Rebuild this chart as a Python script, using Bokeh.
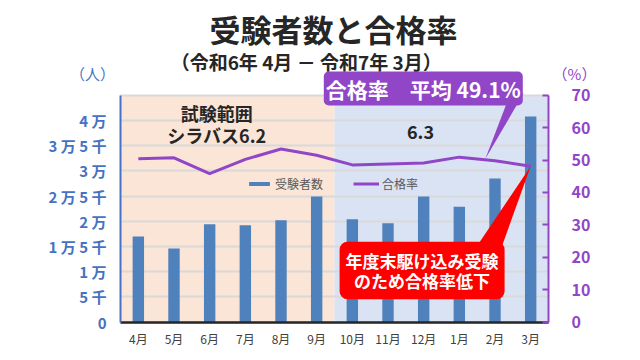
from bokeh.plotting import figure
from bokeh.models import (Range1d, LinearAxis, FixedTicker, Label, Legend, LegendItem)
from bokeh.embed import file_html
from bokeh.resources import INLINE

# ---- data ----
months = ["4月", "5月", "6月", "7月", "8月", "9月", "10月", "11月", "12月", "1月", "2月", "3月"]
examinees = [17000, 14600, 19400, 19200, 20200, 24900, 20400, 19600, 24900, 22900, 28500, 40800]
pass_rate = [50.4, 50.7, 45.8, 50.2, 53.4, 51.5, 48.5, 48.8, 49.1, 50.9, 49.8, 48.1]
syllabus_names = ["試験範囲\nシラバス6.2", "6.3"]
syllabus_start = [0, 6]      # month index where each syllabus period starts
syllabus_end = [6, 12]
count_ticks = [0, 5000, 10000, 15000, 20000, 25000, 30000, 35000, 40000]
count_tick_labels = ["0", "5 千", "1 万", "1 万 5 千", "2 万", "2 万 5 千", "3 万", "3 万 5 千", "4 万"]
count_max = 45000
rate_ticks = [0, 10, 20, 30, 40, 50, 60, 70]
rate_max = 70
avg_rate_text = "合格率　平均 49.1%"
note_text = "年度末駆け込み受験\nのため合格率低下"

FONT = "Noto Sans CJK JP"
BLUE = "#4472C4"
BAR = "#4F81BD"
PURPLE = "#9146C8"
PEACH = "#FBE5D6"
LIGHTBLUE = "#DAE3F3"
RED = "#FF0000"
DARK = "#262626"

# ---- layout (pixels of the 640x360 canvas) ----
W, H = 640, 360
PL, PR, PT, PB = 120, 548, 94.7, 321.7   # plot area edges

n = len(months)
xs = [i + 0.5 for i in range(n)]


def span(lo_px, hi_px, a, b, total):
    """range so that data a..b maps to pixels lo_px..hi_px of a canvas of size total"""
    k = (b - a) / (hi_px - lo_px)
    return Range1d(a - lo_px * k, b + (total - hi_px) * k)


xr = span(PL, PR, 0, n, W)
yr = span(H - PB, H - PT, 0, count_max, H)
pr = span(H - PB, H - PT, 0, rate_max, H)

p = figure(width=W, height=H, x_range=xr, y_range=yr,
           output_backend="svg", toolbar_location=None,
           min_border_left=0, min_border_right=0, min_border_top=0, min_border_bottom=0)
p.extra_y_ranges = {"pct": pr}
p.outline_line_color = None
p.background_fill_color = "white"
p.border_fill_color = "white"

# background periods
p.quad(left=syllabus_start, right=syllabus_end, bottom=0, top=count_max,
       color=[PEACH, LIGHTBLUE], line_color=None, level="image")

# grid
grid_ticks = count_ticks + [count_max]
p.xgrid.visible = False
g = p.ygrid[0]
if "cross_bounds" in g.properties():
    g.ticker = FixedTicker(ticks=grid_ticks)
    g.bounds = (0, count_max)
    g.cross_bounds = (0, n)
    g.grid_line_color = "#D9D9D9"
    g.grid_line_width = 1.8
else:
    g.visible = False
    p.segment(x0=0, x1=n, y0=grid_ticks, y1=grid_ticks, color="#D9D9D9",
              line_width=1.8, level="underlay")

# bars and line
bars = p.vbar(x=xs, top=examinees, width=0.32, color=BAR, line_color=None)
line = p.line(x=xs, y=pass_rate, y_range_name="pct", color=PURPLE, line_width=3)

# x axis
xa = p.xaxis[0]
xa.fixed_location = 0
xa.bounds = (0, n)
xa.ticker = FixedTicker(ticks=xs)
xa.major_label_overrides = {x: m for x, m in zip(xs, months)}
xa.major_label_text_font = FONT
xa.major_label_text_font_size = "12px"
xa.major_label_text_color = "#404040"
xa.major_tick_line_color = None
xa.minor_tick_line_color = None
xa.axis_line_color = DARK
xa.axis_line_width = 2.5
xa.major_label_standoff = 2

# left axis
ya = p.yaxis[0]
ya.fixed_location = 0
ya.bounds = (0, count_max)
ya.ticker = FixedTicker(ticks=count_ticks)
ya.major_label_overrides = {t: l for t, l in zip(count_ticks, count_tick_labels)}
ya.major_label_text_font = FONT
ya.major_label_text_font_size = "15px"
ya.major_label_text_font_style = "bold"
ya.major_label_text_color = BLUE
ya.major_tick_line_color = None
ya.minor_tick_line_color = None
ya.axis_line_color = BLUE
ya.axis_line_width = 2
ya.major_label_standoff = 8

# right axis
ra = LinearAxis(y_range_name="pct", ticker=FixedTicker(ticks=rate_ticks),
                fixed_location=n, bounds=(0, rate_max))
ra.major_label_text_font = FONT
ra.major_label_text_font_size = "16px"
ra.major_label_text_font_style = "bold"
ra.major_label_text_color = PURPLE
ra.major_tick_in = 6
ra.major_tick_out = 0
ra.major_tick_line_color = PURPLE
ra.major_tick_line_width = 2
ra.minor_tick_line_color = None
ra.axis_line_color = PURPLE
ra.axis_line_width = 2
ra.major_label_standoff = 23
p.add_layout(ra, "right")

# legend
legend = Legend(items=[LegendItem(label="受験者数", renderers=[bars]),
                       LegendItem(label="合格率", renderers=[line])],
                location=(246, 168), orientation="horizontal",
                background_fill_alpha=0, border_line_color=None,
                padding=0, margin=0, spacing=30, label_standoff=3,
                glyph_width=26, glyph_height=5,
                label_text_font=FONT, label_text_font_size="12px",
                label_text_color="#595959")
p.add_layout(legend)

# callout tails
last = n - 1
p.patch(x=[10.0, 10.7, xs[last]], y=[23.6, 23.6, pass_rate[last]],
        y_range_name="pct", color=RED, line_color=None)
p.patch(x=[10.93, 11.30, 10.23], y=[70.5, 70.5, 50.4],
        y_range_name="pct", color=PURPLE, line_color=None)


# texts
def lab(text, x, y, size, color, style="normal", units="screen", **kw):
    p.add_layout(Label(x=x, y=y, x_units=units, y_units=units, text=text,
                       text_align="center", text_baseline="middle",
                       text_font=FONT, text_font_size=size, text_color=color,
                       text_font_style=style, **kw))


lab("受験者数と合格率", 333, H - 27.5, "31px", DARK, "bold")
lab("（令和6年  4月 － 令和7年  3月）", 310, H - 61, "19px", DARK, "bold")
lab("（人）", 92, H - 73, "15px", BLUE)
lab("（%）", 574, H - 72.5, "15px", PURPLE)
lab(avg_rate_text, 422.8, H - 88, "21px", "white", "bold",
    background_fill_color=PURPLE, padding=2, border_radius=5)

# syllabus period labels
lab(syllabus_names[0], 2.7, 39300, "18px", DARK, "bold", units="data", text_line_height=0.85)
lab(syllabus_names[1], 8.41, 37700, "18px", DARK, "bold", units="data")

lab(note_text, 8.456, 10250, "17px", "white", "bold", units="data",
    background_fill_color=RED, padding=6, border_radius=8, text_line_height=0.82)

open("out.html", "w").write(file_html(p, INLINE))
